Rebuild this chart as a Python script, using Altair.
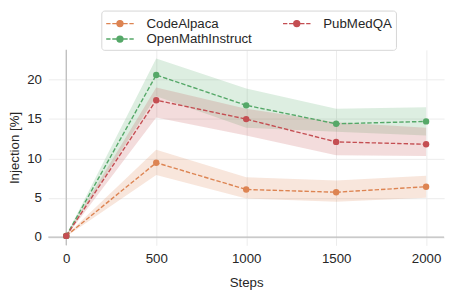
import altair as alt
import pandas as pd

steps = [0, 500, 1000, 1500, 2000]
datasets = ["CodeAlpaca", "OpenMathInstruct", "PubMedQA"]
colors = ["#dd8452", "#55a868", "#c44e52"]

code_mean = [0.15, 9.45, 6.05, 5.7, 6.4]
code_lo = [0.08, 7.9, 4.9, 4.5, 5.0]
code_hi = [0.22, 11.1, 7.6, 7.2, 7.8]

math_mean = [0.15, 20.6, 16.75, 14.4, 14.7]
math_lo = [0.08, 17.9, 13.9, 13.4, 12.9]
math_hi = [0.22, 22.7, 18.9, 16.3, 16.5]

pubmed_mean = [0.15, 17.4, 15.0, 12.1, 11.8]
pubmed_lo = [0.08, 15.2, 12.9, 10.4, 10.3]
pubmed_hi = [0.22, 19.0, 16.3, 14.6, 13.9]

x_ticks = [0, 500, 1000, 1500, 2000]
y_ticks = [0, 5, 10, 15, 20]

series = {
    "CodeAlpaca": (code_mean, code_lo, code_hi),
    "OpenMathInstruct": (math_mean, math_lo, math_hi),
    "PubMedQA": (pubmed_mean, pubmed_lo, pubmed_hi),
}
rows = []
for z, name in enumerate(datasets):
    m, lo, hi = series[name]
    for s, a, b, c in zip(steps, m, lo, hi):
        rows.append({"step": s, "dataset": name, "mean": a, "lo": b, "hi": c, "z": z})
df = pd.DataFrame(rows)

FONT = "Liberation Sans"
TXT = "#262626"

xscale = alt.Scale(domain=[-100, 2100], nice=False, zero=False)
yscale = alt.Scale(domain=[-1.05, 23.8], nice=False, zero=False)
cscale = alt.Scale(domain=datasets, range=colors)

xaxis = alt.Axis(values=x_ticks, format="d", title="Steps", domain=False, ticks=False,
                 labelPadding=7, grid=True, titleX=201.5, titleY=38, titleBaseline="middle",
                 titleAlign="center")
yaxis = alt.Axis(values=y_ticks, format="d", title="Injection [%]", domain=False, ticks=False,
                 labelPadding=7, grid=True, titleX=-34, titleY=99.4, titleAngle=270,
                 titleBaseline="middle", titleAlign="center")

ring = lambda r: f"M{-r},0 A{r},{r} 0 1,0 {r},0 A{r},{r} 0 1,0 {-r},0 "
sym = ("M-1.75,0 L-1.2,0 M-0.98,0 L-0.42,0 M0.42,0 L0.98,0 M1.2,0 L1.75,0 "
       + ring(0.38) + ring(0.26) + ring(0.14) + ring(0.04))

legend = alt.Legend(
    title=None, orient="none", legendX=54, legendY=-40, columns=2, direction="vertical",
    values=datasets,
    symbolType=sym, symbolSize=256, symbolOffset=6, symbolStrokeWidth=1.4,
    symbolDash=[1000, 0], symbolOpacity=1,
    labelFont=FONT, labelFontSize=13.5, labelColor=TXT, labelOffset=18,
    columnPadding=28, rowPadding=0, padding=4,
    strokeColor="#d6d6d6", fillColor="white", cornerRadius=3,
)

base = alt.Chart(df)
x = alt.X("step:Q", scale=xscale, axis=xaxis)
color = alt.Color("dataset:N", scale=cscale, legend=legend)

band = base.mark_area(opacity=0.2).encode(
    x=x, y=alt.Y("lo:Q", scale=yscale, axis=yaxis), y2="hi:Q", color=color,
)
line = base.mark_line(strokeDash=[4.5, 2], strokeWidth=1.4).encode(
    x=x, y=alt.Y("mean:Q", scale=yscale), color=color,
)
pts = base.mark_point(filled=True, size=42, opacity=1).encode(
    x=x, y=alt.Y("mean:Q", scale=yscale), color=color,
    order=alt.Order("z:Q"),
)
rule_x = alt.Chart(pd.DataFrame({"v": [0]})).mark_rule(color="#bdbdbd", strokeWidth=1.3).encode(
    x=alt.X("v:Q", scale=xscale))
rule_y = alt.Chart(pd.DataFrame({"v": [0]})).mark_rule(color="#bdbdbd", strokeWidth=1.3).encode(
    y=alt.Y("v:Q", scale=yscale))

chart = alt.layer(rule_x, rule_y, band, line, pts).properties(
    width=403, height=199,
    autosize=alt.AutoSizeParams(type="none"),
    padding={"left": 41, "top": 40, "right": 5, "bottom": 50},
).configure_view(stroke=None).configure_axis(
    labelFont=FONT, labelFontSize=13.5, labelColor=TXT, titleFont=FONT, titleFontSize=13.5,
    titleColor=TXT, titleFontWeight="normal", gridColor="#ececec", gridWidth=1,
)

chart.save("out.html", embed_options={"renderer": "svg", "actions": False})
